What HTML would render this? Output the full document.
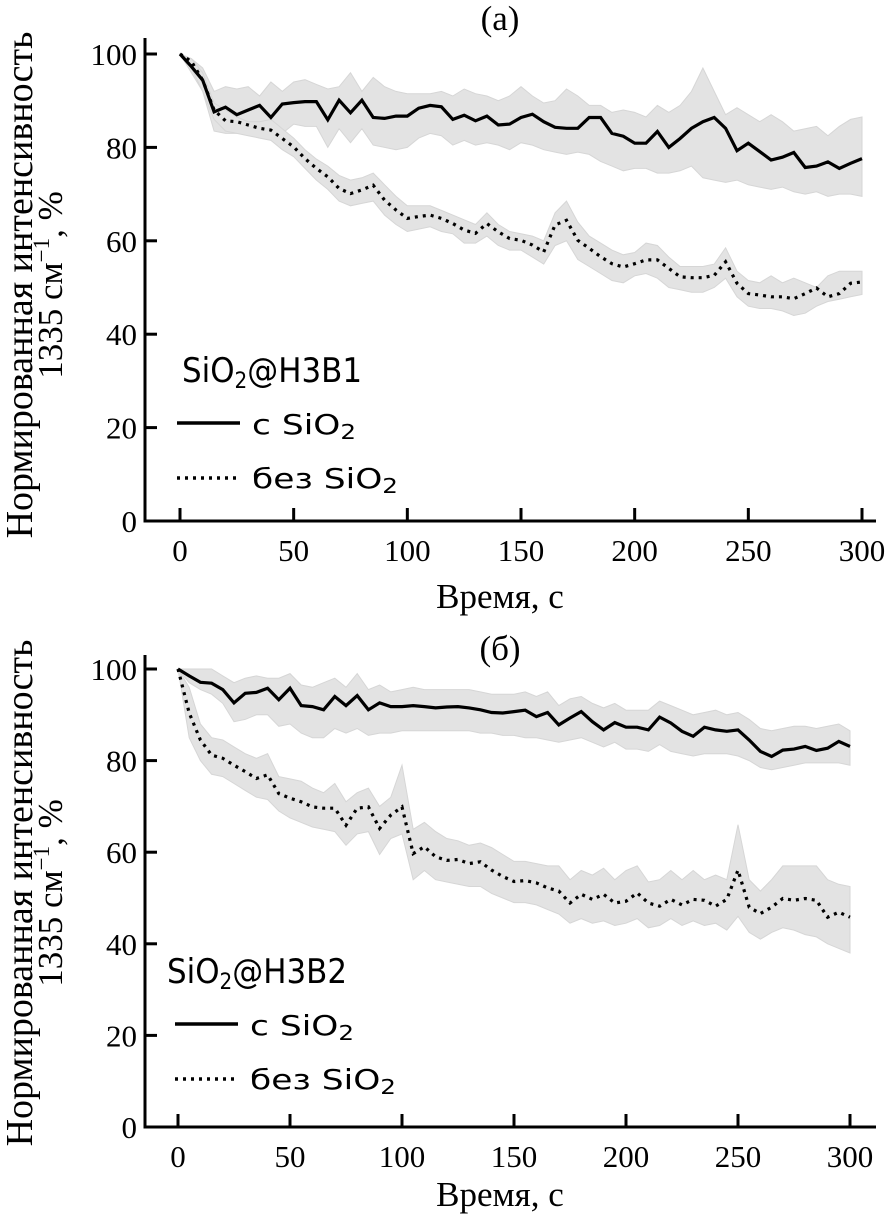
<!DOCTYPE html>
<html><head><meta charset="utf-8"><style>
html,body{margin:0;padding:0;background:#fff;}
svg{display:block;}
.serif{font-family:"Liberation Serif",serif;fill:#000;}
.sans{font-family:"DejaVu Sans","Liberation Sans",sans-serif;fill:#000;}
</style></head><body>
<svg id="chart" width="892" height="1217" viewBox="0 0 892 1217" xmlns="http://www.w3.org/2000/svg"></svg>
<script>
const times = Array.from({length:61},(_,i)=>i*5);
const xTicks = [0,50,100,150,200,250,300];
const yTicks = [0,20,40,60,80,100];
// Panel (a)
const aSolid = [100,97.3,94.4,87.6,88.6,87,88,89,86.4,89.3,89.6,89.8,89.8,85.9,90.1,87.4,90.1,86.4,86.2,86.7,86.7,88.4,89,88.7,86,86.9,85.7,86.7,84.8,85,86.4,87.1,85.5,84.3,84.1,84.1,86.4,86.4,83,82.4,80.9,80.9,83.4,80,81.9,84.1,85.5,86.4,84.1,79.3,80.9,79.1,77.3,77.9,78.9,75.7,76,76.9,75.5,76.6,77.6];
const aSolidHi = [100,99,97,92,93,92.5,93,91,94,92,94,94.5,93.5,92.5,93,96,92,95,93,92,91.5,91.5,91.5,92,91,92.5,91.5,91,90,91,93,91,89.5,90,92.5,91,89,89,87.5,88,87.5,86.5,89,87.5,89,92,97,92,87,88.5,87,85.5,87,85.5,83.5,84,84.5,82.5,84.5,86,86.5];
const aSolidLo = [100,96,92,83.5,83,83,83.5,84,82,83,85,84.5,84.5,80,84,81,84,80.5,80,79.5,80,82,83,82.5,80.5,81.5,80.5,81,80.5,79.5,81,80.5,79.5,79,78.5,79,78.5,77,76,75,75.5,75.5,74.5,74.5,75,76,73.5,73,72.5,73,72,71.5,71,71.5,70.5,70,70.5,69.5,70,70,69.5];
const aDot = [100,98.4,94.4,88,85.7,85.5,84.8,84.1,83.7,81.9,80.1,77.6,75.5,73.7,71.2,70.1,70.9,71.9,68.7,66.6,64.8,65.2,65.5,64.8,63.7,62.3,61.6,63.7,61.9,60.5,60.1,59.1,57.6,63.4,64.4,60.1,58.4,56.6,55.1,54.4,55.1,55.9,55.9,54.1,52.3,52.1,52.1,52.6,55.5,50.9,48.7,48.4,48,48,47.6,48.7,49.9,48,48.7,50.9,51.2];
const aDotHi = [100,99,96,89.5,88,86.5,85.5,85.5,86,84,82,79.5,77.5,76,74,73,73.5,74.5,72,69.5,67.5,67.5,67.5,66.5,65.5,64.5,63.5,66,63.5,62,61.5,61,60,66,68.5,64,61,59.5,58,57,57.5,59.5,59,56.5,54.5,54.5,54.5,55,58.5,53.5,51.5,51,52.5,51,52,51,50,52.5,53.5,53.5,53.5];
const aDotLo = [100,97,92,86,83.5,83,82.5,82,81.5,79.5,78,75.5,73,71,68.5,67.5,68,68.5,65.5,63.5,62,62.5,63,62,61.5,59.5,59.5,61,59,58,58,56.5,55,59,60,56,54.5,53,51.5,51,52.5,53,52,50,49.5,49,49,50,52,48,46,45.5,45.5,45,44,44.5,46,47,47.5,48,48.5];
// Panel (b)
const bSolid = [100,98.5,97.1,96.9,95.5,92.6,94.7,94.9,95.8,93.3,95.8,92,91.8,91.1,94,92,94.2,91.1,92.6,91.8,91.8,92,91.8,91.5,91.7,91.8,91.5,91.1,90.5,90.4,90.7,91,89.6,90.5,87.8,89.3,90.7,88.5,86.7,88.3,87.3,87.3,86.7,89.5,88.2,86.4,85.3,87.3,86.7,86.4,86.7,84.5,82,80.9,82.3,82.5,83.1,82.2,82.7,84.2,83.1];
const bSolidHi = [100,100,100,100,98.5,97,98,98.5,98,98,99,96.5,96,97,98,96,99,95.5,96.5,95,95.5,96,95.5,95.5,95.5,95.5,95.5,95,94.5,94.5,94.5,95,94,95,92,93.5,94,92.5,91.5,92.5,91,91,91,93,92,91,90,90.5,91,90,90.5,89,87,86.5,87,87.5,87.5,87,87.5,88,86.5];
const bSolidLo = [100,97,95.5,94.5,92.5,88.5,89,90,90,87.5,88,86,85,85,87,86,87,85.5,86,86,86.5,86.5,86.5,86.5,86.5,86.5,86.5,86,86,85.5,85.5,85,85,84.5,84,84.5,85,84,83,84,82.5,82.5,82,83.5,82,81.5,81,81.5,81.5,81.5,81,80,78.5,78,78.5,79,79.5,79.5,79.5,79.5,79];
const bDot = [100,90.4,84.5,81.2,80.5,79,77.6,76.1,76.9,72.8,71.8,71,69.9,69.6,69.6,65.9,69.6,69.9,65.2,68.1,69.9,59.7,61.2,59,58.2,58.4,57.5,57.9,56.1,54.7,53.6,53.8,53.3,52.2,51.5,48.9,50.8,49.7,50.8,48.9,49.3,51.1,48.9,48.2,49.7,48.5,49.7,49.5,48.2,49.7,56.1,48,46.6,48,49.9,49.5,49.9,49.5,45.8,46.9,45.8];
const bDotHi = [100,96,88,85,84.5,83,81.5,80.5,81.5,76.5,76,75.5,74,73,75,71,73,74,70,72,79,65,66.5,64.5,63,62.5,61.5,62,61,59.5,58,58,57.5,57,57,54,56,55,56.5,54,56,57,53.5,54,56,54,56,54,55,54,66,54,51.5,54,57,57,57,57,54,53,52.5];
const bDotLo = [100,85,80,77,76.5,75,73.5,72,71.5,69,67.5,66.5,65.5,65,64.5,61.5,64,64.5,59.5,63,64,54,56,54,53.5,53,52.5,52.5,51,50,49,49,48.5,47.5,46.5,44.5,45.5,44.5,45,44,44.5,45.5,43.5,44,45.5,44,45,44,44.5,43,46,42.5,41,42.5,43.5,43,42,41.5,40,39,38];

const NS="http://www.w3.org/2000/svg";
const svg=document.getElementById('chart');
function mk(tag,attrs,parent){const e=document.createElementNS(NS,tag);for(const k in attrs)e.setAttribute(k,attrs[k]);(parent||svg).appendChild(e);return e;}

function panel(p){
  const g=mk('g',{});
  
  
  const X=t=>p.x0+(p.x1-p.x0)*t/300;
  const Y=v=>p.y0+(p.y100-p.y0)*v/100;
  const band=(hi,lo,nm)=>{
    let d='M'+times.map((t,i)=>X(t).toFixed(1)+','+Y(hi[i]).toFixed(1)).join('L');
    for(let i=times.length-1;i>=0;i--)d+='L'+X(times[i]).toFixed(1)+','+Y(lo[i]).toFixed(1);
    const e=mk('path',{d:d+'Z',fill:'#e3e3e3',stroke:'#d6d6d6','stroke-width':1},g);
    
    
  };
  band(p.sHi,p.sLo,'band-with-sio2');
  band(p.dHi,p.dLo,'band-without-sio2');
  const line=(vals,dash,nm)=>{
    const e=mk('polyline',{points:times.map((t,i)=>X(t).toFixed(1)+','+Y(vals[i]).toFixed(1)).join(' '),fill:'none',stroke:'#000','stroke-width':3.2,'stroke-dasharray':dash},g);
    
    
  };
  line(p.s,'none','line-with-sio2');
  line(p.d,'3 5','line-without-sio2');
  const ax=mk('path',{d:`M${p.spine},${p.top}V${p.y0}H${p.right}`,fill:'none',stroke:'#000','stroke-width':3},g);
  
  
  yTicks.forEach(v=>{
    mk('line',{x1:p.spine,x2:p.spine+12,y1:Y(v),y2:Y(v),stroke:'#000','stroke-width':3},g);
    const t=mk('text',{x:p.spine-8,y:Y(v)+11,'text-anchor':'end','font-size':31,class:'serif'},g);
    t.textContent=v;
    
    
  });
  xTicks.forEach(v=>{
    mk('line',{x1:X(v),x2:X(v),y1:p.y0,y2:p.y0-13,stroke:'#000','stroke-width':3},g);
    const t=mk('text',{x:X(v),y:p.y0+40,'text-anchor':'middle','font-size':31,class:'serif'},g);
    t.textContent=v;
    
    
  });
  const xt=mk('text',{x:500,y:p.y0+p.xtOff,'text-anchor':'middle','font-size':35,class:'serif'},g);
  xt.textContent='Время, с';
  
  
  const tt=mk('text',{x:500,y:p.titleY,'text-anchor':'middle','font-size':35,class:'serif'},g);
  tt.textContent=p.title;
  
  
  const yc=p.yLabelC;
  const y1=mk('text',{x:0,y:0,transform:`translate(32,${yc}) rotate(-90)`,'text-anchor':'middle','font-size':38,class:'serif'},g);
  y1.textContent='Нормированная интенсивность';
  
  
  const y2=mk('text',{x:0,y:0,transform:`translate(62,${yc}) rotate(-90)`,'text-anchor':'middle','font-size':35,class:'serif'},g);
  y2.innerHTML='1335 см<tspan dy="-13" font-size="23">−1</tspan><tspan dy="13">, %</tspan>';
  
  
  const lg=mk('g',{},g);
  
  
  const h=mk('text',{x:p.lx,y:p.ly,'font-size':34,class:'sans',textLength:180,lengthAdjust:'spacingAndGlyphs'},lg);
  h.innerHTML='SiO<tspan font-size="22" dy="6">2</tspan><tspan dy="-6">@H3B'+p.num+'</tspan>';
  
  
  const e1=mk('line',{x1:p.llx,x2:p.llx+63,y1:p.ly+41,y2:p.ly+41,stroke:'#000','stroke-width':3.5},lg);
  
  
  const t1=mk('text',{x:p.llx+75,y:p.ly+52,'font-size':28,class:'sans',textLength:104,lengthAdjust:'spacingAndGlyphs'},lg);
  t1.innerHTML='с SiO<tspan font-size="20" dy="5">2</tspan>';
  
  
  const e2=mk('line',{x1:p.llx,x2:p.llx+63,y1:p.ly+96,y2:p.ly+96,stroke:'#000','stroke-width':3.5,'stroke-dasharray':'3 5'},lg);
  
  
  const t2=mk('text',{x:p.llx+75,y:p.ly+106,'font-size':28,class:'sans',textLength:146,lengthAdjust:'spacingAndGlyphs'},lg);
  t2.innerHTML='без SiO<tspan font-size="20" dy="5">2</tspan>';
  
  
}
panel({name:'panel-a',x0:180,x1:862,y0:521,y100:54,spine:145,top:38,right:876,title:'(a)',titleY:30,xtOff:87,yLabelC:285,num:1,lx:182,llx:177,ly:382,
  s:aSolid,sHi:aSolidHi,sLo:aSolidLo,d:aDot,dHi:aDotHi,dLo:aDotLo});
panel({name:'panel-b',x0:178,x1:850,y0:1127,y100:669,spine:145,top:655,right:876,title:'(б)',titleY:660,xtOff:79,yLabelC:893,num:2,lx:167,llx:175,ly:983,
  s:bSolid,sHi:bSolidHi,sLo:bSolidLo,d:bDot,dHi:bDotHi,dLo:bDotLo});
</script>
</body></html>
